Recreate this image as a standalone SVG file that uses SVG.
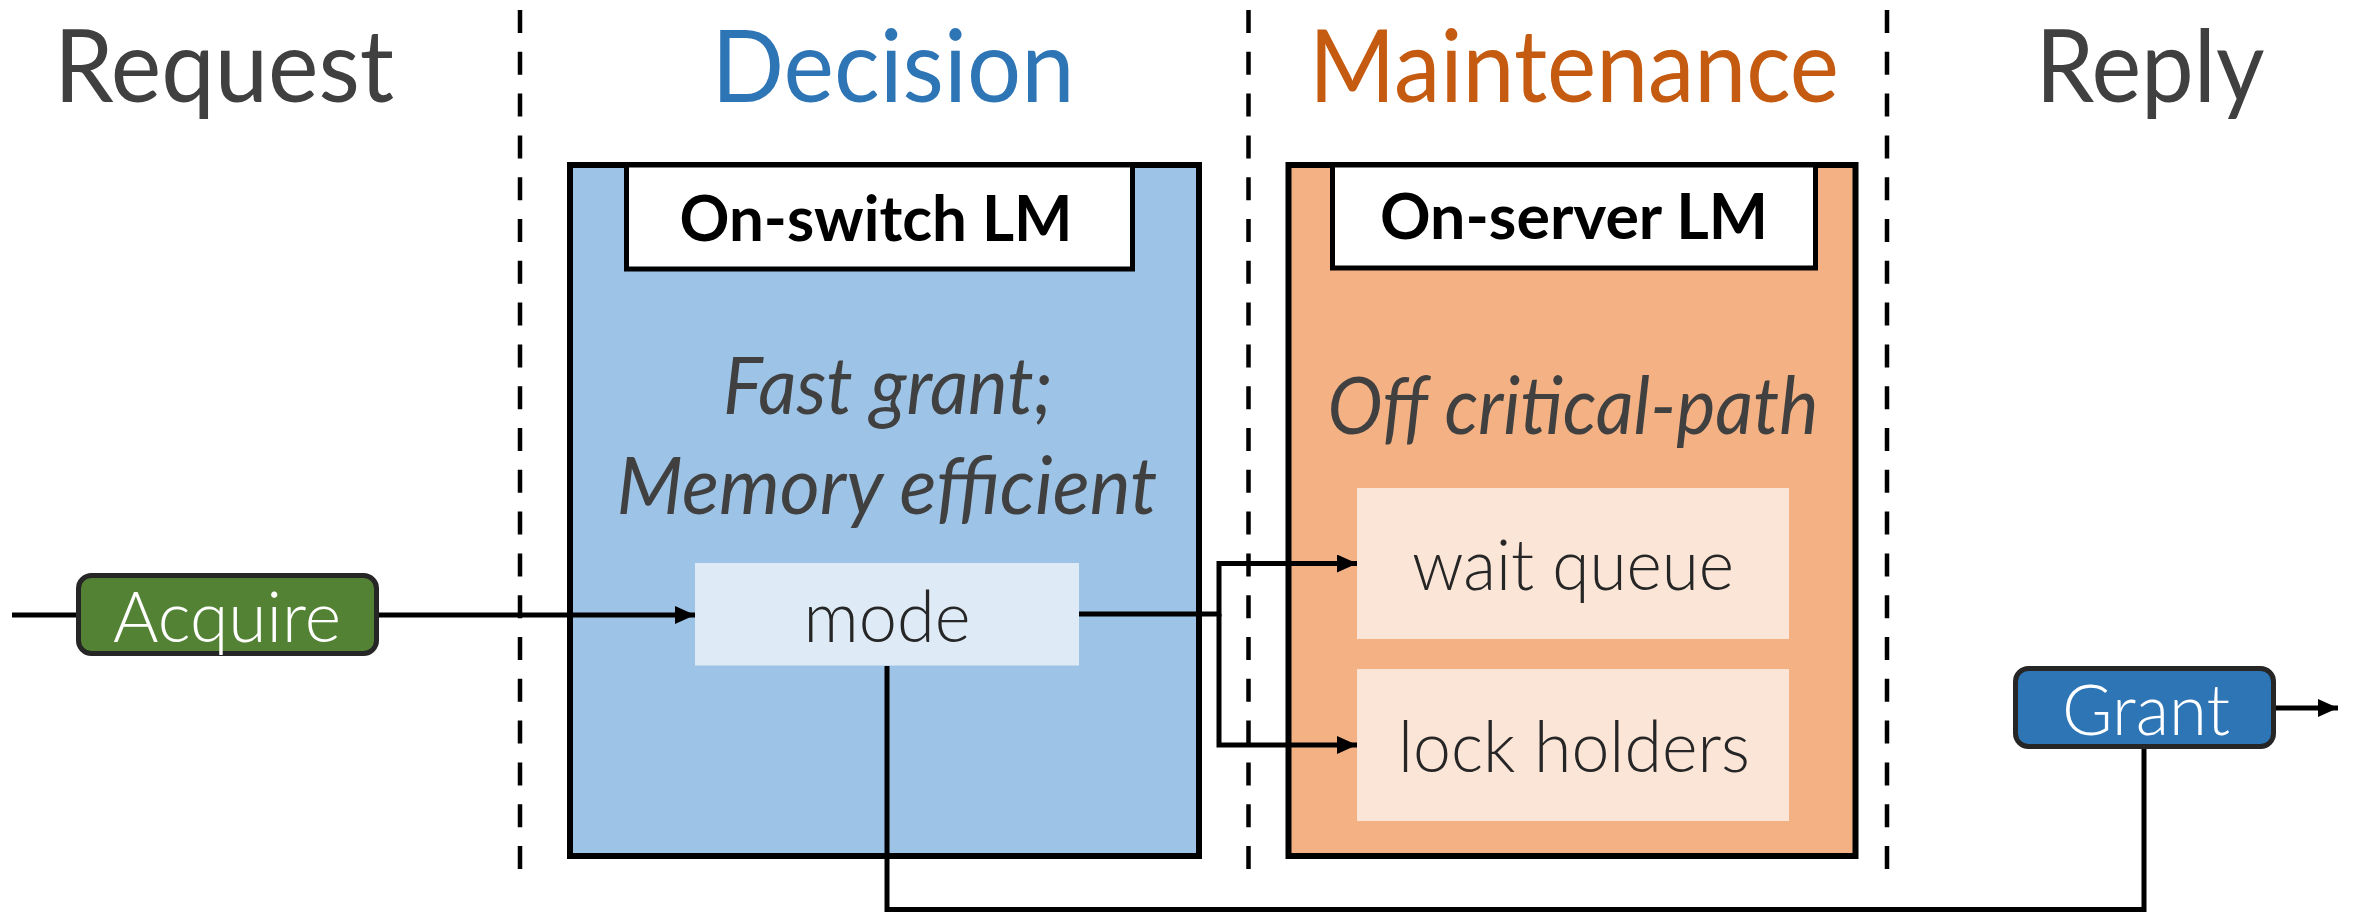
<svg xmlns="http://www.w3.org/2000/svg" width="2359" height="914" viewBox="0 0 2359 914">
  <defs>
    <marker id="arrow" markerUnits="userSpaceOnUse" markerWidth="22" markerHeight="20" refX="20" refY="9" orient="auto">
      <path d="M0,0 L20,9 L0,18 z" fill="#000"/>
    </marker>
    <style>
      .title { font-family: Lato, "Liberation Sans", sans-serif; font-size: 101px; text-anchor: middle; }
      .divider { stroke: #000; stroke-width: 4.5; stroke-dasharray: 23 18.8; fill: none; }
      .panel { stroke: #000; stroke-width: 6; }
      .hdr { fill: #fff; stroke: #000; stroke-width: 5; }
      .hdrtxt { font-family: Lato, "Liberation Sans", sans-serif; font-weight: 700; font-size: 63px; text-anchor: middle; fill: #000; }
      .ital { font-family: Lato, "Liberation Sans", sans-serif; font-style: italic; font-size: 79px; text-anchor: middle; fill: #404040; }
      .body { font-family: Lato, "Liberation Sans", sans-serif; font-weight: 300; font-size: 70px; text-anchor: middle; fill: #262626; }
      .pill { stroke: #262626; stroke-width: 5; }
      .pilltxt { font-family: Lato, "Liberation Sans", sans-serif; font-weight: 300; font-size: 70px; text-anchor: middle; fill: #fff; }
      .conn { stroke: #000; stroke-width: 5; fill: none; }
    </style>
  </defs>
  <rect width="2359" height="914" fill="#fff"/>

  <g id="phase-titles">
    <text class="title" x="224" y="102" fill="#404040" textLength="340" lengthAdjust="spacingAndGlyphs">Request</text>
    <text class="title" x="893" y="102" fill="#2E75B6" textLength="363" lengthAdjust="spacingAndGlyphs">Decision</text>
    <text class="title" x="1574" y="102" fill="#C55A11" textLength="530" lengthAdjust="spacingAndGlyphs">Maintenance</text>
    <text class="title" x="2150" y="102" fill="#404040" textLength="229" lengthAdjust="spacingAndGlyphs">Reply</text>
  </g>

  <g id="dividers">
    <line class="divider" x1="520" y1="10" x2="520" y2="872"/>
    <line class="divider" x1="1248.5" y1="10" x2="1248.5" y2="872"/>
    <line class="divider" x1="1887" y1="10" x2="1887" y2="872"/>
  </g>

  <g id="on-switch-lm">
    <rect class="panel" x="570" y="165" width="629" height="691" fill="#9DC3E6"/>
    <rect class="hdr" x="626.5" y="165" width="506" height="104"/>
    <text class="hdrtxt" x="876" y="241" textLength="393" lengthAdjust="spacingAndGlyphs">On-switch LM</text>
    <text class="ital" x="888" y="414" textLength="330" lengthAdjust="spacingAndGlyphs">Fast grant;</text>
    <text class="ital" x="887" y="514" textLength="541" lengthAdjust="spacingAndGlyphs">Memory efficient</text>
  </g>

  <g id="mode">
    <rect x="695" y="563" width="384" height="102.5" fill="#DEEBF7"/>
    <text class="body" x="887" y="642" textLength="167" lengthAdjust="spacingAndGlyphs">mode</text>
  </g>

  <g id="on-server-lm">
    <rect class="panel" x="1288.5" y="165" width="567" height="691" fill="#F4B183"/>
    <rect class="hdr" x="1332.5" y="165" width="483" height="103"/>
    <text class="hdrtxt" x="1574" y="239" textLength="388" lengthAdjust="spacingAndGlyphs">On-server LM</text>
    <text class="ital" x="1573" y="434" textLength="491" lengthAdjust="spacingAndGlyphs">Off critical-path</text>
  </g>

  <g id="wait-queue">
    <rect x="1357" y="488" width="432" height="151" fill="#FBE5D6"/>
    <text class="body" x="1573" y="590" textLength="322" lengthAdjust="spacingAndGlyphs">wait queue</text>
  </g>

  <g id="lock-holders">
    <rect x="1357" y="669" width="432" height="152" fill="#FBE5D6"/>
    <text class="body" x="1574" y="772" textLength="352" lengthAdjust="spacingAndGlyphs">lock holders</text>
  </g>

  <g id="acquire">
    <rect class="pill" x="78.5" y="575.5" width="298" height="78" rx="13" fill="#548235"/>
    <text class="pilltxt" x="227" y="642" textLength="228" lengthAdjust="spacingAndGlyphs">Acquire</text>
  </g>

  <g id="grant">
    <rect class="pill" x="2015.5" y="668.5" width="258" height="78" rx="13" fill="#2E75B6"/>
    <text class="pilltxt" x="2146" y="735" textLength="168" lengthAdjust="spacingAndGlyphs">Grant</text>
  </g>

  <g id="connectors">
    <path class="conn" d="M12,615 H76"/>
    <path class="conn" d="M379,615 H695" marker-end="url(#arrow)"/>
    <path class="conn" d="M1079,614 H1219 V563.5 H1357" marker-end="url(#arrow)"/>
    <path class="conn" d="M1219,614 V745 H1357" marker-end="url(#arrow)"/>
    <path class="conn" d="M887,666 V909.5 H2144 V749"/>
    <path class="conn" d="M2276,708 H2338" marker-end="url(#arrow)"/>
  </g>
</svg>
